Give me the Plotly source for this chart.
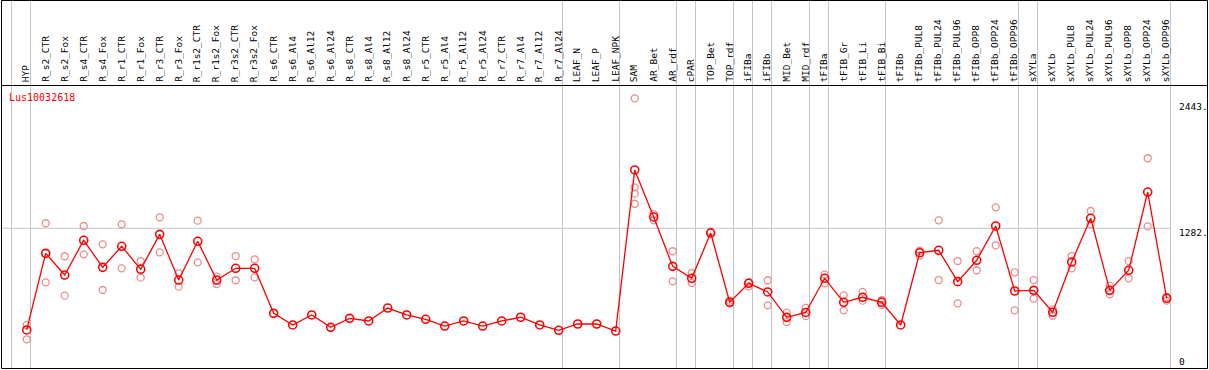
import plotly.graph_objects as go

categories = ["HYP", "R_s2_CTR", "R_s2_Fox", "R_s4_CTR", "R_s4_Fox", "R_r1_CTR", "R_r1_Fox",
              "R_r3_CTR", "R_r3_Fox", "R_r1s2_CTR", "R_r1s2_Fox", "R_r3s2_CTR", "R_r3s2_Fox",
              "R_s6_CTR", "R_s6_Al4", "R_s6_Al12", "R_s6_Al24", "R_s8_CTR", "R_s8_Al4", "R_s8_Al12",
              "R_s8_Al24", "R_r5_CTR", "R_r5_Al4", "R_r5_Al12", "R_r5_Al24", "R_r7_CTR", "R_r7_Al4",
              "R_r7_Al12", "R_r7_Al24", "LEAF_N", "LEAF_P", "LEAF_NPK", "SAM", "AR_Bet", "AR_rdf",
              "cPAR", "TOP_Bet", "TOP_rdf", "iFIBa", "iFIBb", "MID_Bet", "MID_rdf", "tFIBa",
              "tFIB_Gr", "tFIB_Li", "tFIB_Bi", "tFIBb", "tFIBb_PUL8", "tFIBb_PUL24", "tFIBb_PUL96",
              "tFIBb_OPP8", "tFIBb_OPP24", "tFIBb_OPP96", "sXYLa", "sXYLb", "sXYLb_PUL8",
              "sXYLb_PUL24", "sXYLb_PUL96", "sXYLb_OPP8", "sXYLb_OPP24", "sXYLb_OPP96"]

means = [345, 1051, 851, 1171, 922, 1116, 904, 1226, 805, 1162, 805, 913, 913,
         498, 391, 483, 369, 452, 428, 547, 483, 443, 381, 428, 381, 428, 462, 391, 342,
         400, 400, 335, 1819, 1386, 931, 821, 1238, 600, 775, 695, 461, 506, 821,
         600, 646, 600, 391, 1057, 1079, 790, 987, 1303, 704, 710, 508, 971,
         1374, 710, 895, 1616, 637]

replicates = [[391, 259], [1328, 784], [1024, 661], [1303, 1042], [1134, 713], [1318, 913],
              [980, 827], [1383, 1060], [867, 744], [1352, 968], [836, 768], [1026, 803],
              [996, 830], [], [], [], [], [], [], [], [], [], [], [], [], [], [], [], [],
              [], [], [], [2479, 1659, 1601, 1508], [1413, 1355], [1070, 793], [870, 778],
              [1250], [615, 590], [785, 747], [803, 572], [504, 418], [548, 472], [854, 775],
              [664, 526], [695, 615], [621, 575], [], [1075, 1029], [1355, 805], [980, 590],
              [1072, 895], [1475, 1125], [876, 526], [805, 633], [535, 476], [1026, 913],
              [1441, 1318], [753, 674], [980, 821], [1927, 1300], [650, 615]]

group_ends = [-1, 0, 28, 31, 34, 35, 37, 38, 39, 41, 42, 45, 52, 53, 60]
title = "Lus10032618"
right_labels = [("2443.", 2443), ("1282.", 1282), ("0", 0)]
grid_value = 1282

W, H = 1209, 370
xs = list(range(len(categories)))
rx, ry = [], []
for i, reps in enumerate(replicates):
    for v in reps:
        rx.append(i)
        ry.append(v)

# pixel mapping: px = 26.7 + 19*i ; py = 367.4 - 0.10853*v
x0 = (0 - 26.7) / 19
x1 = (W - 26.7) / 19
ylo = (367.4 - H) / 0.10853
yhi = (367.4 - 0) / 0.10853

fig = go.Figure()
fig.add_trace(go.Scatter(x=rx, y=ry, mode="markers",
                         marker=dict(symbol="circle-open", size=7,
                                     color="rgb(236,140,140)", line=dict(width=1.3)),
                         hoverinfo="skip"))
fig.add_trace(go.Scatter(x=xs, y=means, mode="lines+markers",
                         line=dict(color="#ff0000", width=1.3),
                         marker=dict(symbol="circle-open", size=8, color="#ff0000",
                                     line=dict(width=1.6))))

shapes = []
def px2py(p):
    return 1 - p / H

for g in group_ends:
    shapes.append(dict(type="line", xref="x", yref="paper", x0=g + 0.2, x1=g + 0.2,
                       y0=px2py(368), y1=px2py(0.5), line=dict(color="#c4c4c4", width=1),
                       layer="below"))
shapes.append(dict(type="line", xref="paper", yref="y", x0=1 / W, x1=(26.7 + 19 * 60.2) / W,
                   y0=grid_value, y1=grid_value, line=dict(color="#c4c4c4", width=1),
                   layer="below"))
shapes.append(dict(type="rect", xref="paper", yref="paper", x0=1.5 / W, x1=1207.5 / W,
                   y0=px2py(368.5), y1=px2py(0.5), line=dict(color="black", width=1)))
shapes.append(dict(type="line", xref="paper", yref="paper", x0=1.5 / W, x1=1207.5 / W,
                   y0=px2py(85.5), y1=px2py(85.5), line=dict(color="black", width=1)))

annotations = []
for i, c in enumerate(categories):
    annotations.append(dict(x=i - 0.05, y=px2py(83), xref="x", yref="paper", text=c,
                            showarrow=False, textangle=-90, xanchor="center", yanchor="bottom",
                            borderpad=0, font=dict(family="DejaVu Sans Mono", size=9.5,
                                                   color="black")))
annotations.append(dict(x=8 / W, y=px2py(97), xref="paper", yref="paper", text=title,
                        showarrow=False, xanchor="left", yanchor="middle", borderpad=0,
                        font=dict(family="DejaVu Sans Mono", size=10, color="#ff0000")))
label_px = {"2443.": 106.7, "1282.": 232.7, "0": 361.7}
for t, v in right_labels:
    annotations.append(dict(x=1178 / W, y=px2py(label_px[t]), xref="paper", yref="paper",
                            text=t, showarrow=False, xanchor="left", yanchor="middle",
                            borderpad=0, font=dict(family="DejaVu Sans Mono", size=9.5,
                                                   color="black")))

fig.update_layout(width=W, height=H, autosize=False,
                  margin=dict(l=0, r=0, t=0, b=0, pad=0),
                  paper_bgcolor="white", plot_bgcolor="white", showlegend=False,
                  hovermode=False,
                  shapes=shapes, annotations=annotations,
                  xaxis=dict(range=[x0, x1], visible=False, fixedrange=True),
                  yaxis=dict(range=[ylo, yhi], visible=False, fixedrange=True))
fig.write_html("out.html", config={"displayModeBar": False},
               post_script="document.body.style.margin='0';document.body.style.overflow='hidden';")
